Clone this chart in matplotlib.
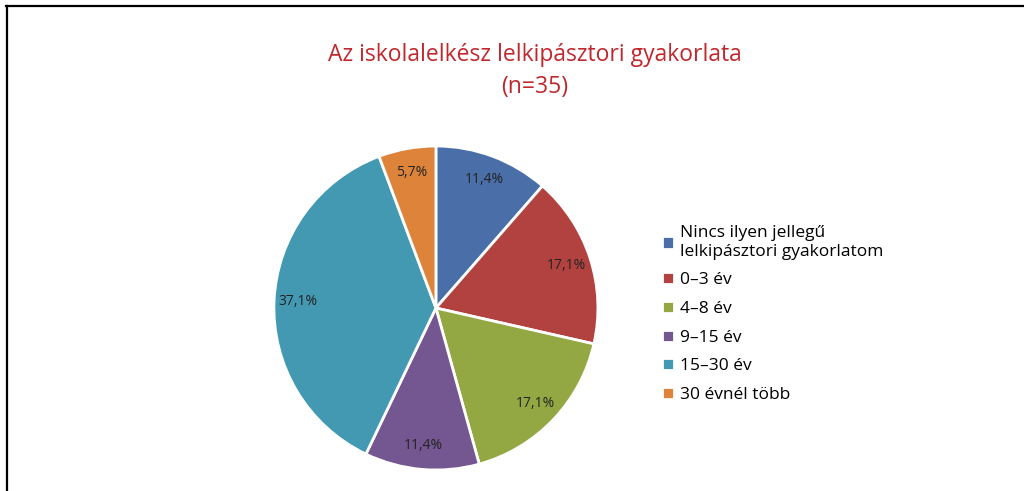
import matplotlib
matplotlib.use("Agg")
import matplotlib.pyplot as plt
from matplotlib.lines import Line2D

plt.rcParams["font.family"] = ["Open Sans", "DejaVu Sans"]

categories = ["Nincs ilyen jellegű\nlelkipásztori gyakorlatom", "0–3 év", "4–8 év",
              "9–15 év", "15–30 év", "30 évnél több"]
shares = [11.4, 17.1, 17.1, 11.4, 37.1, 5.7]
colors = ["#4A6FA8", "#B2423F", "#93A843", "#745690", "#4299B1", "#DD843A"]

fig = plt.figure(figsize=(10.24, 4.91), dpi=100)

# frame lines (top and left only visible)
fig.add_artist(Line2D([0.006, 1.0], [0.988, 0.988], color="black", lw=1.6))
fig.add_artist(Line2D([0.0065, 0.0065], [0.0, 0.988], color="black", lw=1.6))

fig.text(0.522, 0.887, "Az iskolalelkész lelkipásztori gyakorlata", ha="center", va="center",
         fontsize=16.5, color="#C0282D")
fig.text(0.522, 0.822, "(n=35)", ha="center", va="center", fontsize=16.5, color="#C0282D")

labels_pct = iter(f"{v:.1f}%".replace(".", ",") for v in shares)

ax = fig.add_axes([0.2675, 0.0427, 0.3164, 0.66])
wedges, texts, autotexts = ax.pie(
    shares, colors=colors, startangle=90, counterclock=False,
    autopct=lambda p: next(labels_pct), pctdistance=0.85,
    wedgeprops=dict(edgecolor="white", linewidth=2),
    textprops=dict(fontsize=10, color="#222222"))
ax.set_aspect("equal")
ax.set_xlim(-1.0, 1.0)
ax.set_ylim(-1.0, 1.0)

leg = fig.legend(wedges, categories, loc="upper left", bbox_to_anchor=(0.64, 0.555),
                 frameon=False, fontsize=12.5, handlelength=0.7, handleheight=0.7,
                 handletextpad=0.3, labelspacing=0.72, borderaxespad=0)

fig.savefig("out.png", dpi=100)
